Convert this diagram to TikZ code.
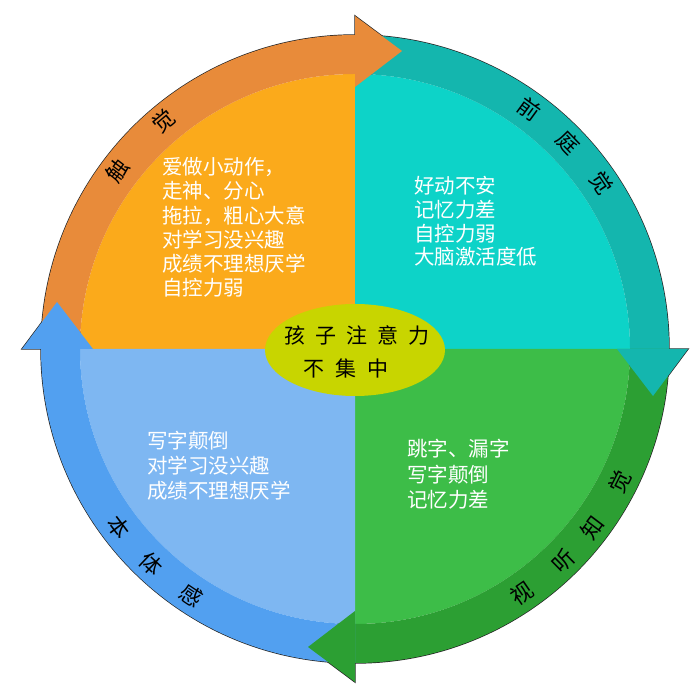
\documentclass[tikz,border=0pt]{standalone}
\usepackage{fontspec}
\setmainfont{Noto Sans CJK SC}
\usetikzlibrary{shapes.geometric}
\definecolor{orq}{HTML}{FBAA1B}
\definecolor{orr}{HTML}{E88B3A}
\definecolor{teq}{HTML}{0DD3C8}
\definecolor{ter}{HTML}{14B6AE}
\definecolor{grq}{HTML}{3DBD48}
\definecolor{grr}{HTML}{2C9F33}
\definecolor{blq}{HTML}{7EB7F2}
\definecolor{blr}{HTML}{52A0F0}
\definecolor{core}{HTML}{C8D500}
\tikzset{
  edgeline/.style={line width=1.4pt, draw=black!85},
  quadtext/.style={text=white, align=left, anchor=west, inner sep=0pt},
  ringlab/.style={text=black, inner sep=0pt, font=\fontsize{22}{22}\selectfont},
  coretext/.style={text=black, inner sep=0pt, font=\fontsize{21}{21}\selectfont},
}
\begin{document}
\begin{tikzpicture}[x=1pt,y=1pt]
\useasboundingbox (0,0) rectangle (700,700);
\begin{scope}[shift={(355,351)}]
  % outer outline (shadow edge)
  \draw[edgeline] (0,0) circle[radius=314];
  \draw[edgeline] (0,262) -- (0,333) -- (47,298) -- cycle;
  \draw[edgeline] (262,0) -- (333,0) -- (298,-47) -- cycle;
  \draw[edgeline] (0,-262) -- (0,-333) -- (-47,-298) -- cycle;
  \draw[edgeline] (-262,0) -- (-333,0) -- (-298,47) -- cycle;
  % quadrants
  \fill[orq] (0,0) -- (180:275) arc[start angle=180,end angle=90,radius=275] -- cycle;
  \fill[teq] (0,0) -- (90:275) arc[start angle=90,end angle=0,radius=275] -- cycle;
  \fill[grq] (0,0) -- (0:275) arc[start angle=0,end angle=-90,radius=275] -- cycle;
  \fill[blq] (0,0) -- (-90:275) arc[start angle=-90,end angle=-180,radius=275] -- cycle;
  % ring segments
  \fill[orr] (180:275) -- (180:314) arc[start angle=180,end angle=90,radius=314] -- (90:275) arc[start angle=90,end angle=180,radius=275] -- cycle;
  \fill[ter] (90:275) -- (90:314) arc[start angle=90,end angle=0,radius=314] -- (0:275) arc[start angle=0,end angle=90,radius=275] -- cycle;
  \fill[grr] (0:275) -- (0:314) arc[start angle=0,end angle=-90,radius=314] -- (-90:275) arc[start angle=-90,end angle=0,radius=275] -- cycle;
  \fill[blr] (-90:275) -- (-90:314) arc[start angle=-90,end angle=-180,radius=314] -- (-180:275) arc[start angle=-180,end angle=-90,radius=275] -- cycle;
  % arrowheads
  \fill[orr] (0,262) -- (0,333) -- (47,298) -- cycle;
  \fill[ter] (262,0) -- (333,0) -- (298,-47) -- cycle;
  \fill[grr] (0,-262) -- (0,-333) -- (-47,-298) -- cycle;
  \fill[blr] (-262,0) -- (-333,0) -- (-298,47) -- cycle;
  % ring labels
  \node[ringlab, rotate=53] (l1a) at (143:297) {触};
  \node[ringlab, rotate=40] (l1b) at (130:298) {觉};
  \node[ringlab, rotate=-36] (l2a) at (54:297) {前};
  \node[ringlab, rotate=-46] (l2b) at (44:297) {庭};
  \node[ringlab, rotate=-56] (l2c) at (34:297) {觉};
  \node[ringlab, rotate=34.4] (l3a) at (-55.6:296) {视};
  \node[ringlab, rotate=44.5] (l3b) at (-45.5:297) {听};
  \node[ringlab, rotate=53] (l3c) at (-37:297) {知};
  \node[ringlab, rotate=63.3] (l3d) at (-26.7:297) {觉};
  \node[ringlab, rotate=-53] (l4a) at (-143:296) {本};
  \node[ringlab, rotate=-43.4] (l4b) at (-133.4:296) {体};
  \node[ringlab, rotate=-33.6] (l4c) at (-123.6:296) {感};
  % quadrant texts
  \node[quadtext, font=\fontsize{20.5}{24.2}\selectfont] (qo) at (-193,121.5)
    {爱做小动作，\\走神、分心\\拖拉，粗心大意\\对学习没兴趣\\成绩不理想厌学\\自控力弱};
  \node[quadtext, font=\fontsize{20.5}{23.8}\selectfont] (qt) at (59,127.5)
    {好动不安\\记忆力差\\自控力弱\\大脑激活度低};
  \node[quadtext, font=\fontsize{20.5}{25}\selectfont] (qb) at (-208,-117)
    {写字颠倒\\对学习没兴趣\\成绩不理想厌学};
  \node[quadtext, font=\fontsize{20.5}{25.4}\selectfont] (qg) at (52,-125.5)
    {跳字、漏字\\写字颠倒\\记忆力差};
  % core
  \node[ellipse, fill=core, minimum width=180pt, minimum height=92pt, inner sep=0pt] (c) at (0,-1) {};
  \node[coretext] (c1) at (2,14) {孩\kern10pt 子\kern10pt 注\kern10pt 意\kern10pt 力};
  \node[coretext] (c2) at (-9,-19) {不\kern11pt 集\kern11pt 中};
\end{scope}
\end{tikzpicture}
\end{document}
